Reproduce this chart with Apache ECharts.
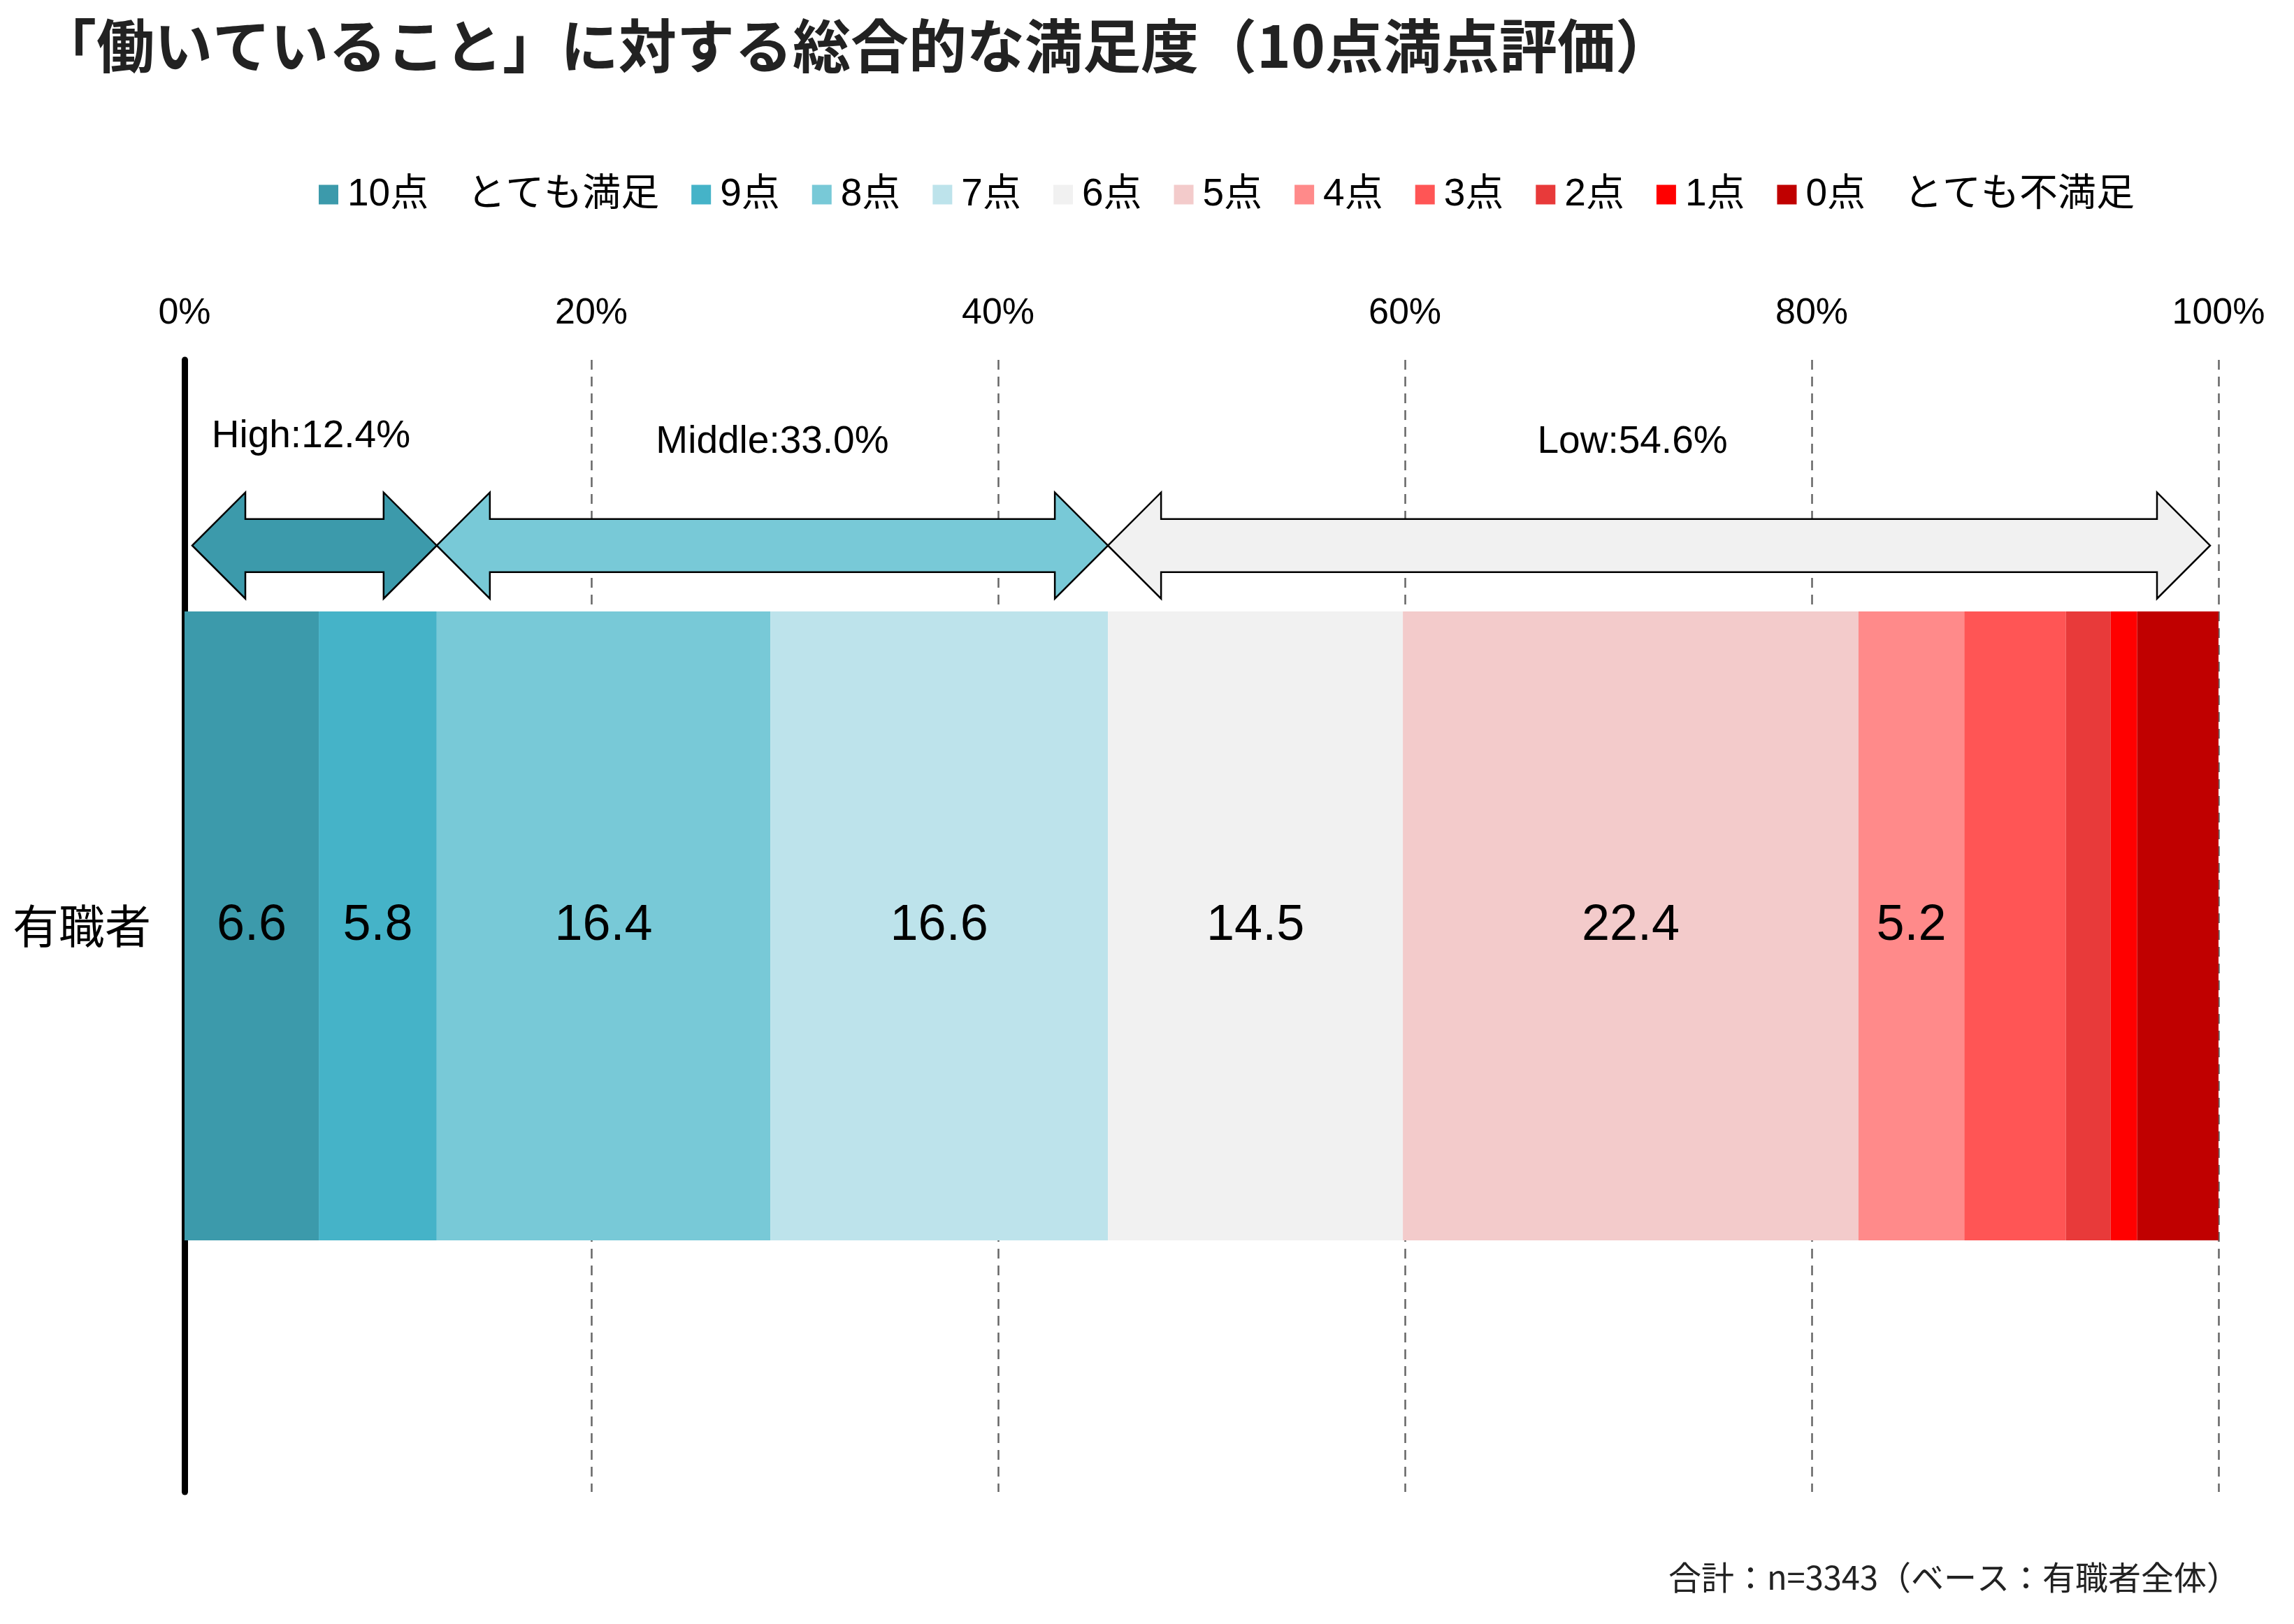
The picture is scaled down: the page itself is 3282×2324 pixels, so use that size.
<!DOCTYPE html>
<html>
<head>
<meta charset="utf-8">
<script src="https://cdn.jsdelivr.net/npm/echarts@6/dist/echarts.min.js"></script>
<style>
html,body{margin:0;padding:0;background:#fff;}
#c{width:3282px;height:2324px;}
</style>
</head>
<body>
<div id="c"></div>
<script>
// ---- data ----
const categories = ['有職者'];
const seriesNames = ['10点　とても満足','9点','8点','7点','6点','5点','4点','3点','2点','1点','0点　とても不満足'];
const seriesValues = [6.6, 5.8, 16.4, 16.6, 14.5, 22.4, 5.2, 5.0, 2.2, 1.3, 4.0];
const seriesColors = ['#3c9aab','#45b3c8','#78c9d7','#bde3eb','#f1f1f1','#f3cbcb','#ff8a8a','#ff5555','#e83a3a','#ff0000','#c00000'];
const groupNames = ['High','Middle','Low'];
const groupSizes = [2, 2, 7];            // number of score levels in each group
const groupColors = ['#3c9aab','#78c9d7','#f1f1f1'];
const xTicks = [0, 20, 40, 60, 80, 100];
const labelMin = 5.1;                    // values below this are not labelled
const titleText = '「働いていること」に対する総合的な満足度（10点満点評価）';
const footText = '合計：n=3343（ベース：有職者全体）';

// ---- build ----
const latin = '"Liberation Sans", Arial, "Noto Sans CJK JP", sans-serif';
const cjk = '"Noto Sans CJK JP", "Liberation Sans", sans-serif';

const groupData = [];
let idx = 0, acc = 0;
for (let g = 0; g < groupNames.length; g++) {
  const start = acc;
  let s = 0;
  for (let k = 0; k < groupSizes[g]; k++) { s += seriesValues[idx++]; }
  acc = start + s;
  groupData.push([start, acc, 0, groupNames[g] + ':' + s.toFixed(1) + '%', g]);
}

const barSeries = seriesNames.map((n, i) => ({
  name: n,
  type: 'bar',
  stack: 'total',
  barWidth: 900,
  data: [seriesValues[i]],
  itemStyle: { color: seriesColors[i] },
  label: {
    show: true,
    position: 'inside',
    fontSize: 72,
    fontFamily: latin,
    color: '#000',
    formatter: p => (p.value >= labelMin ? p.value.toFixed(1) : '')
  },
  emphasis: { disabled: true }
}));

// label placement tweaks (pixels) per group: [dx, dy]
const labelShift = [[-5, -4], [0, 4], [-38, 4]];

const arrowSeries = {
  type: 'custom',
  name: 'groups',
  data: groupData,
  encode: { x: [0, 1], y: 2 },
  z: 5,
  silent: true,
  renderItem: function (params, api) {
    const v0 = api.value(0), v1 = api.value(1);
    const p0 = api.coord([v0, 0]);
    const p1 = api.coord([v1, 0]);
    const band = api.size([0, 1])[1];
    const cy = p0[1] - band * 0.336;
    let x0 = p0[0], x1 = p1[0];
    if (v0 <= 0) x0 += 11;
    if (v1 >= 100) x1 -= 12;
    const h = 76, hh = 76, sh = 38;
    const pts = [
      [x0, cy], [x0 + h, cy - hh], [x0 + h, cy - sh], [x1 - h, cy - sh], [x1 - h, cy - hh],
      [x1, cy], [x1 - h, cy + hh], [x1 - h, cy + sh], [x0 + h, cy + sh], [x0 + h, cy + hh]
    ];
    const g = api.value(4);
    const sh2 = labelShift[g];
    return {
      type: 'group',
      children: [
        {
          type: 'polygon',
          shape: { points: pts },
          style: { fill: groupColors[g], stroke: '#000', lineWidth: 2.5 }
        },
        {
          type: 'text',
          style: {
            x: (x0 + x1) / 2 + sh2[0],
            y: cy - 152 + sh2[1],
            text: api.value(3),
            fill: '#000',
            fontSize: 55,
            fontFamily: latin,
            align: 'center',
            verticalAlign: 'middle'
          }
        }
      ]
    };
  }
};

const chart = echarts.init(document.getElementById('c'), null, { renderer: 'canvas' });
chart.setOption({
  backgroundColor: '#fff',
  animation: false,
  title: {
    text: titleText,
    left: 50,
    top: 19,
    textStyle: { fontSize: 83, fontWeight: 'bold', color: '#222', fontFamily: cjk }
  },
  legend: {
    data: seriesNames,
    left: 451,
    top: 246,
    itemWidth: 28,
    itemHeight: 28,
    itemGap: 46,
    icon: 'rect',
    selectedMode: false,
    textStyle: { fontSize: 55, color: '#000', fontFamily: latin, padding: [0, 0, 0, 8] }
  },
  grid: { left: 264, right: 108, top: 515, bottom: 189, containLabel: false },
  xAxis: {
    type: 'value',
    position: 'top',
    min: 0,
    max: 100,
    interval: 20,
    axisLine: { show: false },
    axisTick: { show: false },
    axisLabel: { formatter: '{value}%', fontSize: 52, color: '#000', fontFamily: latin, margin: 40 },
    splitLine: {
      show: true,
      lineStyle: { color: '#666', width: 2.5, type: [14, 10] }
    }
  },
  yAxis: {
    type: 'category',
    data: categories,
    axisLine: { show: true, lineStyle: { color: '#000', width: 9, cap: 'round' } },
    axisTick: { show: false },
    axisLabel: { fontSize: 66, color: '#000', fontFamily: cjk, margin: 48 }
  },
  series: barSeries.concat([arrowSeries]),
  graphic: [{
    type: 'text',
    right: 78,
    top: 2262 - 28,
    style: { text: footText, fontSize: 47, fill: '#222', fontFamily: cjk, align: 'right' }
  }]
});
</script>
</body>
</html>
